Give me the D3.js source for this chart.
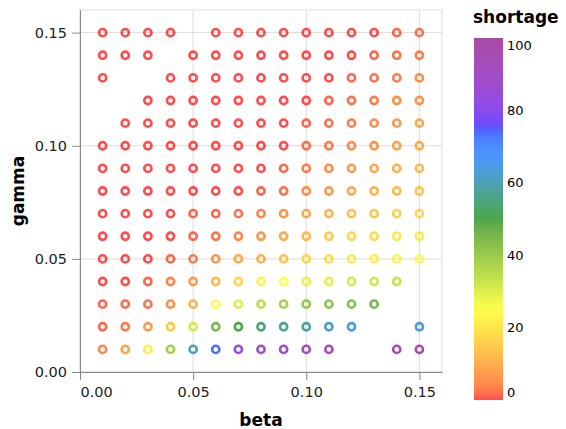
<!DOCTYPE html>
<head>
  <meta charset="utf-8">
  <script src="https://d3js.org/d3.v7.min.js"></script>
  <style>
    body { margin:0; background:#fff; }
    svg { font-family: "DejaVu Sans", sans-serif; }
  </style>
</head>

<body>
  <script>
    // grid of runs: beta across, gamma down (top row first)
    var beta = [0.01, 0.02, 0.03, 0.04, 0.05, 0.06, 0.07, 0.08, 0.09, 0.10, 0.11, 0.12, 0.13, 0.14, 0.15];
    var gamma = [0.15, 0.14, 0.13, 0.12, 0.11, 0.10, 0.09, 0.08, 0.07, 0.06, 0.05, 0.04, 0.03, 0.02, 0.01];
    // shortage per gamma row, one value per beta (null = no run)
    var shortage = [
      [0, 0, 0, 0, null, 0, 0, 0, 0, 0, 0, 0, 0, 1, 2],
      [0, 0, 0, null, 0, 0, 0, 0, 0, 0, 0, 0, 1, 2, 3],
      [0, null, null, 0, 0, 0, 0, 0, 0, 0, 0, 1, 2, 3, 5],
      [null, null, 0, 0, 0, 0, 0, 0, 0, 0, 1, 2, 3, 5, 6],
      [null, 0, 0, 0, 0, 0, 0, 0, 0, 1, 2, 3, 5, 7, 9],
      [0, 0, 0, 0, 0, 0, 0, 0, 0, 2, 3, 5, 6, 8, 10],
      [0, 0, 0, 0, 0, 0, 0, 0, 1, 3, 5, 7, 9, 10, 12],
      [0, 0, 0, 0, 0, 0, 0, 1, 2, 5, 7, 9, 11, 12, 14],
      [0, 0, 0, 0, 1, 1, 2, 4, 6, 9, 11, 13, 14, 16, 17],
      [0, 0, 0, 0, 1, 2, 4, 6, 9, 12, 15, 17, 18, 20, 21],
      [0, 0, 0, 1, 3, 6, 9, 11, 14, 17, 19, 21, 22, 23, 24],
      [0, 0, 1, 4, 7, 12, 17, 23, 25, 28, 29, 31, 32, 33, null],
      [1, 1, 2, 5, 11, 24, 30, 35, 38, 41, 42, 43, 45, null, null],
      [1, 3, 7, 15, 31, 45, 50, 54, 57, 59, 61, 64, null, null, 64],
      [4, 8, 21, 39, 60, 74, 82, 86, 89, 91, 94, null, null, 94, 95]
    ];
    var axisTicks = [0, 0.05, 0.10, 0.15];
    var legendTicks = [0, 20, 40, 60, 80, 100];
    var colorStops = [0, 25, 50, 75, 100];
    var colorNames = ["red", "yellow", "green", "blue", "purple"];

    var mLeft = 80, mTop = 10, w = 362, h = 362;

    var svg = d3.select("body").append("svg")
      .attr("width", 566)
      .attr("height", 429)

    var x = d3.scaleLinear().domain([0, 0.16]).range([0, w]);
    var y = d3.scaleLinear().domain([0, 0.16]).range([h, 0]);
    var color = d3.scaleLinear().domain(colorStops).range(colorNames).interpolate(d3.interpolateHcl);

    var g = svg.append("g").attr("transform", "translate(" + mLeft + "," + mTop + ")");

    // view border + grid
    g.append("rect").attr("width", w).attr("height", h)
      .attr("fill", "none").attr("stroke", "#ddd");
    g.selectAll("line.gx").data(axisTicks).enter().append("line")
      .attr("x1", x).attr("x2", x).attr("y1", 0).attr("y2", h)
      .attr("stroke", "#ddd");
    g.selectAll("line.gy").data(axisTicks).enter().append("line")
      .attr("y1", y).attr("y2", y).attr("x1", 0).attr("x2", w)
      .attr("stroke", "#ddd");

    // flatten into points
    var pts = [];
    gamma.forEach(function(gm, i) {
      beta.forEach(function(b, j) {
        var v = shortage[i][j];
        if (v != null) pts.push({beta: b, gamma: gm, shortage: v});
      });
    });

    g.selectAll("circle.pt").data(pts).enter().append("circle")
      .attr("cx", function(d) { return x(d.beta) })
      .attr("cy", function(d) { return y(d.gamma) })
      .attr("r", 3.6)
      .attr("fill", "none")
      .attr("stroke", function(d) { return color(d.shortage) })
      .attr("stroke-width", 2.6)
      .attr("stroke-opacity", 0.7);

    // axes
    var fmt = d3.format(".2f");
    var xa = g.append("g").attr("transform", "translate(0," + h + ")")
      .call(d3.axisBottom(x).tickValues(axisTicks).tickFormat(fmt).tickSize(8).tickSizeOuter(0).tickPadding(7));
    var ya = g.append("g")
      .call(d3.axisLeft(y).tickValues(axisTicks).tickFormat(fmt).tickSize(8).tickSizeOuter(0).tickPadding(5));
    [xa, ya].forEach(function(a) {
      a.select(".domain").attr("stroke", "#888");
      a.selectAll(".tick line").attr("stroke", "#888");
      a.selectAll("text").attr("fill", "#222").style("font-size", "14.5px").style("font-family", "DejaVu Sans");
    });
    xa.selectAll(".tick text").filter(function(d) { return d === 0 }).attr("text-anchor", "start");

    svg.append("text").text("beta")
      .attr("x", mLeft + w / 2).attr("y", 426)
      .attr("text-anchor", "middle")
      .style("font-weight", "bold").style("font-size", "17px");
    svg.append("text").text("gamma")
      .attr("transform", "translate(24," + (mTop + h / 2) + ")rotate(-90)")
      .attr("text-anchor", "middle")
      .style("font-weight", "bold").style("font-size", "17px");

    // legend
    var lx = 474, ly = 38, lw = 29, lh = 362;
    var ls = d3.scaleLinear().domain([0, 100]).range([ly + lh, ly]);
    var defs = svg.append("defs");
    var grad = defs.append("linearGradient").attr("id", "shortGrad")
      .attr("x1", 0).attr("x2", 0).attr("y1", 1).attr("y2", 0);
    d3.range(0, 101, 2).forEach(function(v) {
      grad.append("stop").attr("offset", v + "%").attr("stop-color", color(v));
    });
    svg.append("rect").attr("x", lx).attr("y", ly).attr("width", lw).attr("height", lh)
      .attr("fill", "url(#shortGrad)").attr("fill-opacity", 0.7);
    svg.append("text").text("shortage")
      .attr("x", 473).attr("y", 23)
      .style("font-weight", "bold").style("font-size", "17px");
    svg.selectAll("text.ll").data(legendTicks).enter().append("text")
      .attr("x", lx + lw + 4)
      .attr("y", function(d) { return ls(d) })
      .attr("dy", function(d) { return d === 100 ? "0.95em" : d === 0 ? "-0.2em" : "0.35em" })
      .style("font-size", "13px")
      .text(function(d) { return d });
  </script>
</body>

</html>
